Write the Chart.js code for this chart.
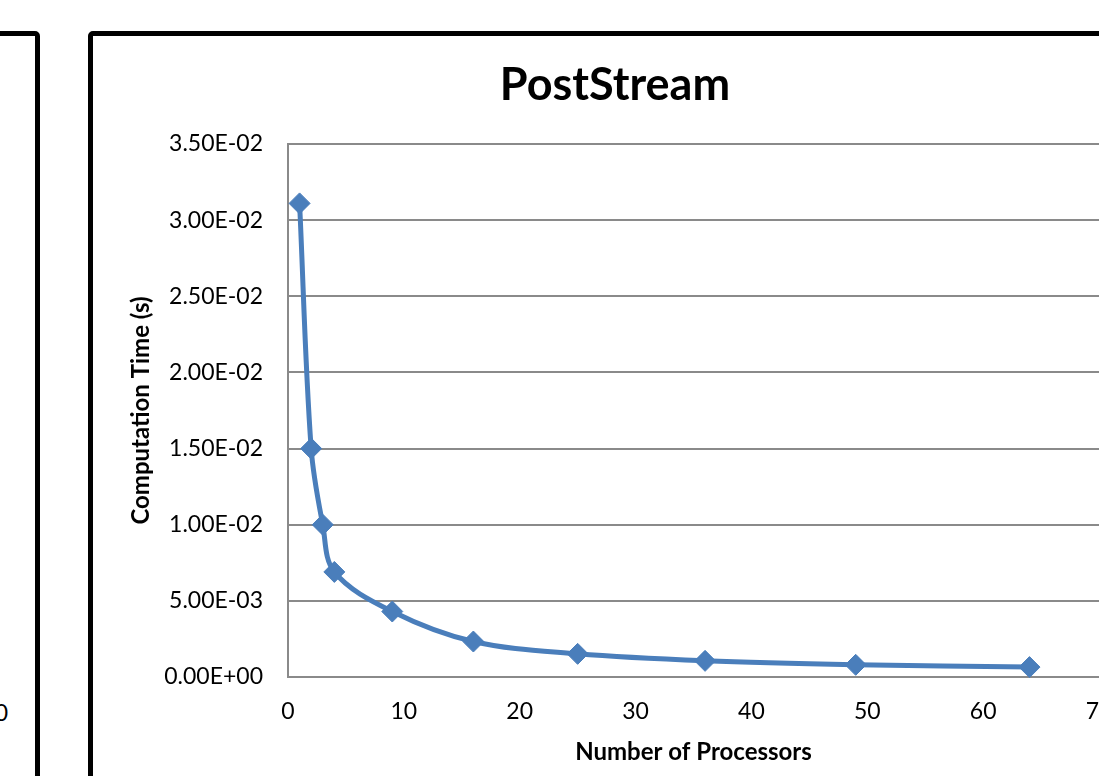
<!DOCTYPE html>
<html>
<head>
<meta charset="utf-8">
<title>PostStream</title>
<script src="https://cdn.jsdelivr.net/npm/chart.js@4"></script>
<style>
  html, body { margin: 0; padding: 0; background: #fff; width: 1099px; height: 776px; overflow: hidden; position: relative; }
  .frame { position: absolute; border: 5px solid #000; border-radius: 5px; box-sizing: border-box; background: #fff; }
  #prevFrame { left: -1000px; top: 31px; width: 1040px; height: 900px; }
  #mainFrame { left: 88px; top: 31px; width: 1200px; height: 900px; }
  #prevTick { position: absolute; right: 1091px; top: 699px; font: 23px Lato, sans-serif; line-height: 26px; color: #000; white-space: nowrap; }
  #wrap { position: absolute; left: 93px; top: 36px; width: 1042px; height: 740px; }
</style>
</head>
<body>
<div class="frame" id="prevFrame"></div>
<span id="prevTick">70</span>
<div class="frame" id="mainFrame"></div>
<div id="wrap"><canvas id="chart" width="1042" height="740"></canvas></div>
<script>
// Measured computation time per processor count
const processors = [1, 2, 3, 4, 9, 16, 25, 36, 49, 64];
const computationTime = [3.11e-2, 1.50e-2, 1.00e-2, 6.90e-3, 4.30e-3, 2.33e-3, 1.52e-3, 1.06e-3, 8.0e-4, 6.5e-4];

// Axis tick labels
const xTickLabels = ['0', '10', '20', '30', '40', '50', '60', '70'];
const yTickLabels = ['0.00E+00', '5.00E-03', '1.00E-02', '1.50E-02', '2.00E-02', '2.50E-02', '3.00E-02', '3.50E-02'];

const points = processors.map((p, i) => ({ x: p, y: computationTime[i] }));

const lineBlue = '#4A7EBB';
const gridGray = '#8a8a8a';
const fontFamily = 'Lato, "Open Sans", sans-serif';

new Chart(document.getElementById('chart'), {
  type: 'line',
  data: {
    datasets: [{
      label: 'PostStream',
      data: points,
      borderColor: lineBlue,
      backgroundColor: lineBlue,
      borderWidth: 5,
      tension: 0.35,
      pointStyle: 'rectRot',
      pointRadius: 10.5,
      pointBackgroundColor: lineBlue,
      pointBorderColor: lineBlue,
      pointBorderWidth: 1,
      clip: false
    }]
  },
  options: {
    responsive: false,
    animation: false,
    devicePixelRatio: 1,
    layout: { padding: { left: 38, right: 36, top: 0, bottom: 0 } },
    plugins: {
      legend: { display: false },
      tooltip: { enabled: false },
      title: {
        display: true,
        text: 'PostStream',
        color: '#000',
        font: { family: fontFamily, size: 45, weight: 'bold' },
        padding: { top: 22, bottom: 32 }
      }
    },
    scales: {
      x: {
        type: 'linear',
        min: 0,
        max: 70,
        grid: { display: false, drawTicks: false },
        border: { display: true, color: gridGray, width: 2 },
        ticks: {
          stepSize: 10,
          color: '#000',
          padding: 21,
          font: { family: fontFamily, size: 23 },
          callback: (v, i) => xTickLabels[i]
        },
        title: {
          display: true,
          text: 'Number of Processors',
          color: '#000',
          font: { family: fontFamily, size: 24, weight: 'bold' },
          padding: { top: 0, bottom: 9.6 }
        },
        afterFit(scale) { scale.height = 99; scale.paddingLeft = 0; scale.paddingRight = 0; }
      },
      y: {
        min: 0,
        max: 0.035,
        grid: { color: gridGray, lineWidth: 2, drawTicks: false },
        border: { display: true, color: gridGray, width: 2 },
        ticks: {
          stepSize: 0.005,
          color: '#000',
          padding: 25,
          font: { family: fontFamily, size: 23 },
          callback: (v, i) => yTickLabels[i]
        },
        title: {
          display: true,
          text: 'Computation Time (s)',
          color: '#000',
          font: { family: fontFamily, size: 24, weight: 'bold' },
          padding: { top: -4.4, bottom: 0 }
        },
        afterFit(scale) { scale.width = 157; scale.paddingTop = 0; scale.paddingBottom = 0; }
      }
    }
  }
});
</script>
</body>
</html>
